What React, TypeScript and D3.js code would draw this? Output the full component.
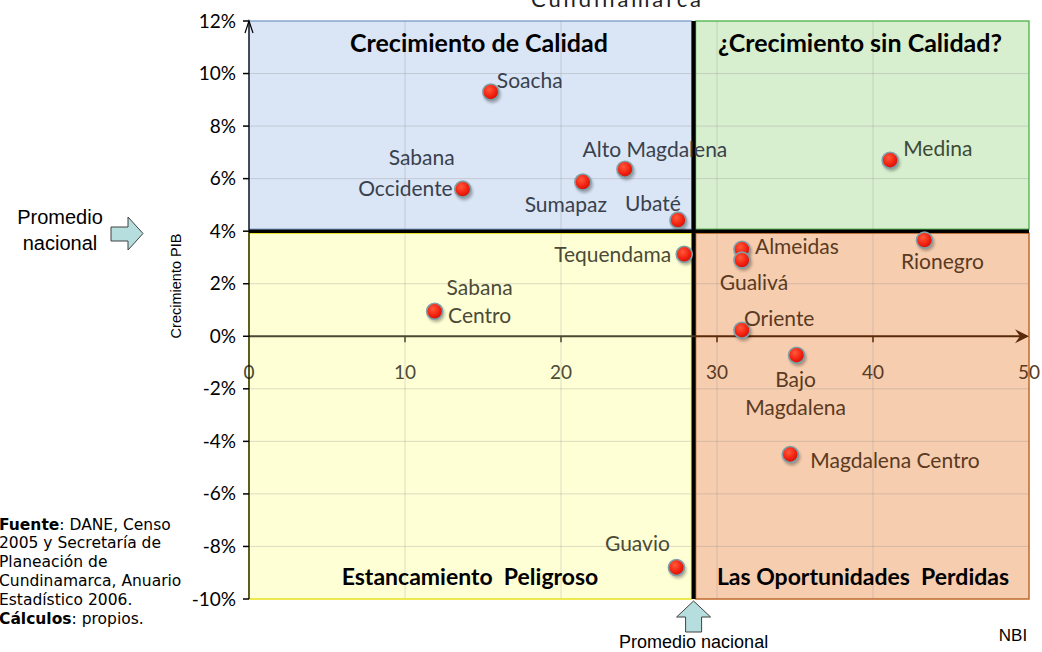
import React from "react";
import * as d3 from "d3";

const regions = ["Soacha", "Sabana Occidente", "Sumapaz", "Alto Magdalena", "Ubaté", "Tequendama", "Sabana Centro", "Guavio", "Almeidas", "Gualivá", "Oriente", "Bajo Magdalena", "Magdalena Centro", "Medina", "Rionegro"];
const nbi = [15.5, 13.7, 21.4, 24.1, 27.5, 27.9, 11.9, 27.4, 31.6, 31.6, 31.6, 35.1, 34.7, 41.1, 43.3];
const crecimientoPIB = [9.3, 5.6, 5.87, 6.36, 4.42, 3.12, 0.95, -8.8, 3.31, 2.9, 0.23, -0.72, -4.5, 6.7, 3.66];
const promedioNBI = 28.5;
const promedioPIB = 4.0;
const xTicks = [0, 10, 20, 30, 40, 50];
const yTicks = [-10, -8, -6, -4, -2, 0, 2, 4, 6, 8, 10, 12];
const quadrantTitles = ["Crecimiento de Calidad", "¿Crecimiento sin Calidad?", "Estancamiento  Peligroso", "Las Oportunidades  Perdidas"];

// label layout: lines, dx, dy (first baseline), anchor
const labelLayout: Record<string, { lines: string[]; dx: number; dy: number; anchor: string }> = {
  "Soacha": { lines: ["Soacha"], dx: 6, dy: -4, anchor: "start" },
  "Sabana Occidente": { lines: ["Sabana"], dx: -8, dy: -24, anchor: "end" },
  "Sumapaz": { lines: ["Sumapaz"], dx: -17, dy: 30, anchor: "middle" },
  "Alto Magdalena": { lines: ["Alto Magdalena"], dx: 30, dy: -12, anchor: "middle" },
  "Ubaté": { lines: ["Ubaté"], dx: -25, dy: -9, anchor: "middle" },
  "Tequendama": { lines: ["Tequendama"], dx: -13, dy: 8, anchor: "end" },
  "Sabana Centro": { lines: ["Sabana", "Centro"], dx: 45, dy: -16, anchor: "middle" },
  "Guavio": { lines: ["Guavio"], dx: -39, dy: -16, anchor: "middle" },
  "Almeidas": { lines: ["Almeidas"], dx: 13, dy: 5, anchor: "start" },
  "Gualivá": { lines: ["Gualivá"], dx: 12, dy: 30, anchor: "middle" },
  "Oriente": { lines: ["Oriente"], dx: 2, dy: -4, anchor: "start" },
  "Bajo Magdalena": { lines: ["Bajo", "Magdalena"], dx: -1, dy: 32, anchor: "middle" },
  "Magdalena Centro": { lines: ["Magdalena Centro"], dx: 20, dy: 13, anchor: "start" },
  "Medina": { lines: ["Medina"], dx: 13, dy: -4, anchor: "start" },
  "Rionegro": { lines: ["Rionegro"], dx: 18, dy: 29, anchor: "middle" },
};

const W = 1042, H = 652;
const LABEL_FONT = "Lato, 'Open Sans', sans-serif";
const ARIAL = "'Liberation Sans', Arial, sans-serif";

export default function App() {
  const x = d3.scaleLinear().domain([0, 50]).range([249, 1029]);
  const y = d3.scaleLinear().domain([-10, 12]).range([599, 21]);
  const x0 = x(0), x1 = x(50), y0 = y(-10), y1 = y(12);
  const xm = x(promedioNBI), ym = y(promedioPIB);
  const gap = 2;

  const quadColor = (xv: number, yv: number) => {
    if (yv >= promedioPIB) return xv < promedioNBI ? "#39414d" : "#3d4a36";
    return xv < promedioNBI ? "#4b4b38" : "#5a3a22";
  };

  // Sabana Occidente second line drawn separately to match right alignment
  const iSO = regions.indexOf("Sabana Occidente");

  return (
    <svg width={W} height={H} style={{ position: "absolute", left: 0, top: 0, background: "#fff" }}>
      <defs>
        <radialGradient id="dot" cx="40%" cy="35%" r="70%">
          <stop offset="0%" stopColor="#ff5a3a" />
          <stop offset="60%" stopColor="#f2200f" />
          <stop offset="100%" stopColor="#c8100a" />
        </radialGradient>
        <filter id="blur" x="-50%" y="-50%" width="200%" height="200%">
          <feGaussianBlur stdDeviation="1.5" />
        </filter>
      </defs>
      {/* title partially cut off at the top edge */}
      <text x={616} y={7} textAnchor="middle" fontFamily={LABEL_FONT} fontSize={22} fill="#222" textLength={170}>Cundinamarca</text>

      {/* quadrant fills */}
      <rect x={x0} y={y1} width={xm - gap - x0} height={ym - gap - y1} fill="#dae5f5" />
      <rect x={xm + gap} y={y1} width={x1 - xm - gap} height={ym - gap - y1} fill="#d8efcf" />
      <rect x={x0} y={ym + gap} width={xm - gap - x0} height={y0 - ym - gap} fill="#ffffd6" />
      <rect x={xm + gap} y={ym + gap} width={x1 - xm - gap} height={y0 - ym - gap} fill="#f6cdaf" />

      {/* gridlines */}
      {xTicks.filter((t) => t > 0 && t < 50).map((t) => (
        <line key={"gx" + t} x1={x(t)} x2={x(t)} y1={y1} y2={y0} stroke="#8a8a8a" strokeOpacity={0.3} strokeWidth={1} />
      ))}
      {yTicks.filter((t) => t > -10 && t < 12 && t !== 0 && t !== 4).map((t) => (
        <line key={"gy" + t} x1={x0} x2={x1} y1={y(t)} y2={y(t)} stroke="#8a8a8a" strokeOpacity={0.3} strokeWidth={1} />
      ))}

      {/* quadrant borders */}
      <rect x={x0} y={y1} width={xm - gap - x0} height={ym - gap - y1} fill="none" stroke="#6f93c6" strokeWidth={1.2} />
      <rect x={xm + gap} y={y1} width={x1 - xm - gap} height={ym - gap - y1} fill="none" stroke="#3daa3d" strokeWidth={1.2} />
      <rect x={x0} y={ym + gap} width={xm - gap - x0} height={y0 - ym - gap} fill="none" stroke="#e6e21a" strokeWidth={1.5} />
      <rect x={xm + gap} y={ym + gap} width={x1 - xm - gap} height={y0 - ym - gap} fill="none" stroke="#c0692a" strokeWidth={1.5} />

      {/* divider lines */}
      <line x1={x0} x2={x1} y1={ym} y2={ym} stroke="#000" strokeWidth={3.5} />
      <line x1={xm} x2={xm} y1={y1} y2={y0} stroke="#000" strokeWidth={4} />

      {/* x axis at 0 */}
      <line x1={x0} x2={xm} y1={y(0)} y2={y(0)} stroke="#4a4a33" strokeWidth={2} />
      <line x1={xm} x2={x1 - 2} y1={y(0)} y2={y(0)} stroke="#5a2a0a" strokeWidth={2} />
      <path d={`M${x1 - 14},${y(0) - 7} L${x1},${y(0)} L${x1 - 14},${y(0) + 7} L${x1 - 9},${y(0)} Z`} fill="#5a2a0a" />
      {xTicks.filter((t) => t > 0 && t < 50).map((t) => (
        <line key={"xt" + t} x1={x(t)} x2={x(t)} y1={y(0)} y2={y(0) + 6} stroke={t < promedioNBI ? "#4a4a33" : "#5a2a0a"} strokeWidth={1.5} />
      ))}
      {xTicks.map((t) => (
        <text key={"xl" + t} x={x(t)} y={y(0) + 43} textAnchor="middle" fontFamily={LABEL_FONT} fontSize={19} fill={t < promedioNBI ? "#4b4b38" : "#5a3a22"}>{t}</text>
      ))}

      {/* y axis */}
      <line x1={x0} x2={x0} y1={y0} y2={y1} stroke="#000" strokeWidth={1.2} />
      <path d={`M${x0 - 4},${y1 + 12} L${x0},${y1} L${x0 + 4},${y1 + 12}`} fill="none" stroke="#000" strokeWidth={1.2} />
      {yTicks.map((t) => (
        <g key={"yt" + t}>
          <line x1={x0 - 6} x2={x0} y1={y(t)} y2={y(t)} stroke="#000" strokeWidth={1.5} />
          <text x={x0 - 13} y={y(t) + 6.5} textAnchor="end" fontFamily={LABEL_FONT} fontSize={19} fill="#000">{t}%</text>
        </g>
      ))}
      <text transform={`translate(181,286) rotate(-90)`} textAnchor="middle" fontFamily={ARIAL} fontSize={14.5} fill="#000">Crecimiento PIB</text>

      {/* quadrant titles */}
      <g fontFamily={LABEL_FONT} fontWeight={700} fill="#000" textAnchor="middle">
        <text x={479} y={y1 + 31} fontSize={25}>{quadrantTitles[0]}</text>
        <text x={860} y={y1 + 31} fontSize={25}>{quadrantTitles[1]}</text>
        <text x={470} y={y0 - 14} fontSize={23} xmlSpace="preserve">{quadrantTitles[2]}</text>
        <text x={863} y={y0 - 14} fontSize={23} xmlSpace="preserve">{quadrantTitles[3]}</text>
      </g>

      {/* points */}
      {regions.map((r, i) => (
        <g key={"p" + r}>
          <circle cx={x(nbi[i]) + 1.5} cy={y(crecimientoPIB[i]) + 2.5} r={8.5} fill="#000" opacity={0.3} filter="url(#blur)" />
          <circle cx={x(nbi[i])} cy={y(crecimientoPIB[i])} r={8} fill="url(#dot)" stroke="#7fa0a8" strokeWidth={1.6} />
        </g>
      ))}

      {/* point labels */}
      {regions.map((r, i) => {
        const L = labelLayout[r];
        const px = x(nbi[i]), py = y(crecimientoPIB[i]);
        return (
          <text key={"l" + r} x={px + L.dx} y={py + L.dy} textAnchor={L.anchor} fontFamily={LABEL_FONT} fontSize={21} fill={quadColor(nbi[i], crecimientoPIB[i])}>
            {L.lines.map((ln, k) => (
              <tspan key={k} x={px + L.dx} dy={k === 0 ? 0 : 28}>{ln}</tspan>
            ))}
          </text>
        );
      })}
      <text x={x(nbi[iSO]) - 10} y={y(crecimientoPIB[iSO]) + 7} textAnchor="end" fontFamily={LABEL_FONT} fontSize={21} fill={quadColor(nbi[iSO], crecimientoPIB[iSO])}>Occidente</text>

      {/* left annotation */}
      <text x={60} y={224} textAnchor="middle" fontFamily={ARIAL} fontSize={20} fill="#000">Promedio</text>
      <text x={60} y={250} textAnchor="middle" fontFamily={ARIAL} fontSize={20} fill="#000">nacional</text>
      <path d="M111,227 L128,227 L128,217 L143,233.5 L128,250 L128,241 L111,241 Z" fill="#b7dedf" stroke="#404040" strokeWidth={1} />

      {/* bottom annotation */}
      <path d={`M${xm},601 L${xm + 17},617 L${xm + 8},617 L${xm + 8},632 L${xm - 8},632 L${xm - 8},617 L${xm - 17},617 Z`} fill="#b7dedf" stroke="#404040" strokeWidth={1} />
      <text x={xm} y={648} textAnchor="middle" fontFamily={ARIAL} fontSize={18} fill="#000">Promedio nacional</text>
      <text x={1013} y={641} textAnchor="middle" fontFamily={ARIAL} fontSize={17} fill="#000">NBI</text>

      {/* source */}
      <g fontFamily="'DejaVu Sans', Verdana, sans-serif" fontSize={15.5} fill="#000">
        <text x={-1} y={530}><tspan fontWeight={700}>Fuente</tspan>: DANE, Censo</text>
        <text x={-1} y={548}>2005 y Secretaría de</text>
        <text x={-1} y={567}>Planeación de</text>
        <text x={-1} y={586}>Cundinamarca, Anuario</text>
        <text x={-1} y={605}>Estadístico 2006.</text>
        <text x={-1} y={624}><tspan fontWeight={700}>Cálculos</tspan>: propios.</text>
      </g>
    </svg>
  );
}
